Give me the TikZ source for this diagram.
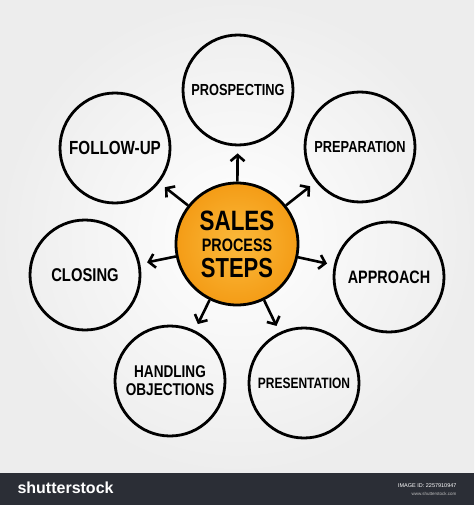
\documentclass[tikz,border=0pt]{standalone}
\usepackage{fontspec}
\setmainfont{Liberation Sans}
\newfontfamily\handfont[FakeStretch=0.8]{Liberation Sans}
\usetikzlibrary{arrows.meta, positioning}
\definecolor{salesorange}{HTML}{F49C16}
\definecolor{saleslight}{HTML}{FBBA3C}
\definecolor{bannergray}{HTML}{2B2E36}
\newcommand{\hand}[1]{\handfont\bfseries\fontsize{#1}{#1}\selectfont}

\begin{document}
\begin{tikzpicture}[x=1pt, y=-1pt,
    stepcircle/.style={draw, circle, line width=2.8pt, minimum size=110pt,
      inner sep=0pt, align=center},
    arr/.style={line width=2.6pt, -{Straight Barb[length=6pt, width=14pt]},
      shorten >=7pt}]
  \useasboundingbox (0,0) rectangle (474,505);
  % background and banner
  \shade[inner color=black!0, outer color=black!7] (0,0) rectangle (474,473);
  \fill[bannergray] (0,473) rectangle (474,505);

  % centre
  \node[draw, circle, line width=2.8pt, minimum size=122pt, inner sep=0pt,
    shade, inner color=saleslight, outer color=salesorange, align=center,
    font=\hand{20}] (sales) at (237,244)
    {\hand{28}SALES\\[1pt]\hand{18}PROCESS\\[6pt]\hand{27.5}STEPS};

  % steps
  \node[stepcircle, font=\hand{16}] (prosp) at (238,90) {PROSPECTING};
  \node[stepcircle, font=\hand{16}] (prep) at (360,147) {PREPARATION};
  \node[stepcircle, font=\hand{18}] (appr) at (389,277) {APPROACH};
  \node[stepcircle, font=\hand{15}] (pres) at (304,383) {PRESENTATION};
  \node[stepcircle, font=\hand{17}] (objec) at (170,381)
    {HANDLING\\[1pt]OBJECTIONS};
  \node[stepcircle, font=\hand{18.5}] (closing) at (85,275) {CLOSING};
  \node[stepcircle, font=\hand{19}] (follow) at (115,148) {FOLLOW-UP};

  \foreach \t in {prosp, prep, appr, pres, objec, closing, follow}
    \draw[arr] (sales) -- (\t);

  % banner text
  \node[anchor=west, text=white, font=\bfseries\fontsize{16}{16}\selectfont]
    (brand) at (14,488) {shutterstock};
  \node[anchor=east, text=white, font=\fontsize{5.5}{6}\selectfont]
    (imgid) at (460,486) {IMAGE ID: 2257910947};
  \node[anchor=east, text=white!75!black, font=\fontsize{4.5}{5}\selectfont]
    (site) at (460,494) {www.shutterstock.com};
\end{tikzpicture}
\end{document}
